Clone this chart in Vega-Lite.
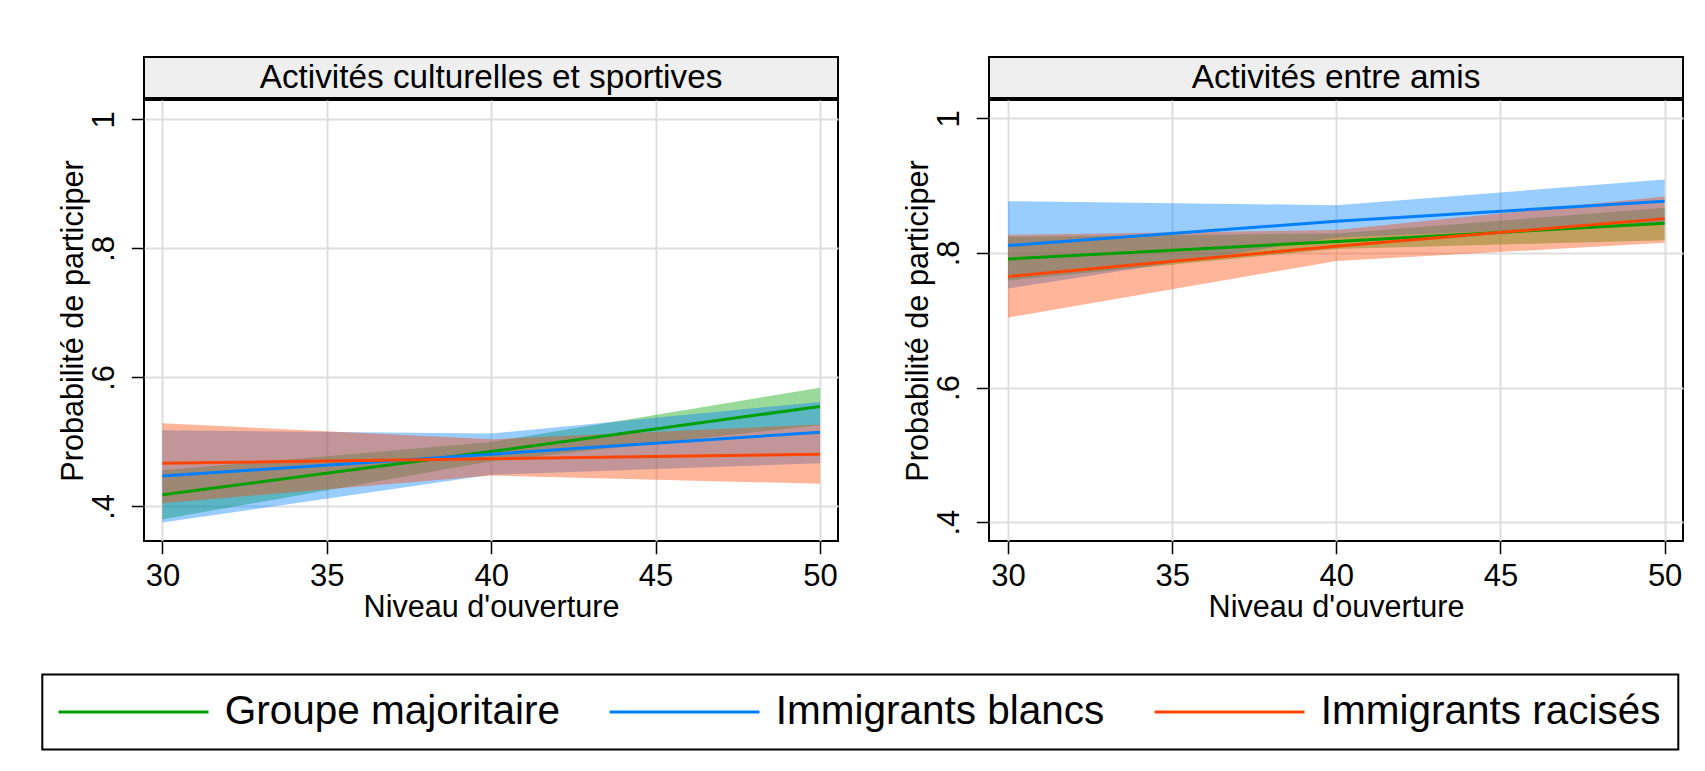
{
  "$schema": "https://vega.github.io/schema/vega-lite/v6.json",
  "background": "white",
  "padding": {"left": 41, "top": 56, "right": 0, "bottom": 0},
  "datasets": {
    "panels": [
      {"panel": "Activités culturelles et sportives"},
      {"panel": "Activités entre amis"}
    ],
    "est": [
      {"panel": "Activités culturelles et sportives", "groupe": "Groupe majoritaire", "ouverture": 30, "prob": 0.418, "lo": 0.380, "hi": 0.456},
      {"panel": "Activités culturelles et sportives", "groupe": "Groupe majoritaire", "ouverture": 40, "prob": 0.485, "lo": 0.470, "hi": 0.500},
      {"panel": "Activités culturelles et sportives", "groupe": "Groupe majoritaire", "ouverture": 50, "prob": 0.555, "lo": 0.526, "hi": 0.584},
      {"panel": "Activités culturelles et sportives", "groupe": "Immigrants blancs", "ouverture": 30, "prob": 0.447, "lo": 0.375, "hi": 0.518},
      {"panel": "Activités culturelles et sportives", "groupe": "Immigrants blancs", "ouverture": 40, "prob": 0.481, "lo": 0.449, "hi": 0.513},
      {"panel": "Activités culturelles et sportives", "groupe": "Immigrants blancs", "ouverture": 50, "prob": 0.515, "lo": 0.467, "hi": 0.562},
      {"panel": "Activités culturelles et sportives", "groupe": "Immigrants racisés", "ouverture": 30, "prob": 0.467, "lo": 0.405, "hi": 0.529},
      {"panel": "Activités culturelles et sportives", "groupe": "Immigrants racisés", "ouverture": 40, "prob": 0.474, "lo": 0.448, "hi": 0.504},
      {"panel": "Activités culturelles et sportives", "groupe": "Immigrants racisés", "ouverture": 50, "prob": 0.481, "lo": 0.435, "hi": 0.527},
      {"panel": "Activités entre amis", "groupe": "Groupe majoritaire", "ouverture": 30, "prob": 0.791, "lo": 0.759, "hi": 0.824},
      {"panel": "Activités entre amis", "groupe": "Groupe majoritaire", "ouverture": 40, "prob": 0.817, "lo": 0.806, "hi": 0.829},
      {"panel": "Activités entre amis", "groupe": "Groupe majoritaire", "ouverture": 50, "prob": 0.844, "lo": 0.819, "hi": 0.867},
      {"panel": "Activités entre amis", "groupe": "Immigrants blancs", "ouverture": 30, "prob": 0.811, "lo": 0.747, "hi": 0.877},
      {"panel": "Activités entre amis", "groupe": "Immigrants blancs", "ouverture": 40, "prob": 0.847, "lo": 0.823, "hi": 0.871},
      {"panel": "Activités entre amis", "groupe": "Immigrants blancs", "ouverture": 50, "prob": 0.877, "lo": 0.843, "hi": 0.909},
      {"panel": "Activités entre amis", "groupe": "Immigrants racisés", "ouverture": 30, "prob": 0.765, "lo": 0.704, "hi": 0.827},
      {"panel": "Activités entre amis", "groupe": "Immigrants racisés", "ouverture": 40, "prob": 0.810, "lo": 0.788, "hi": 0.834},
      {"panel": "Activités entre amis", "groupe": "Immigrants racisés", "ouverture": 50, "prob": 0.851, "lo": 0.815, "hi": 0.884}
    ]
  },
  "config": {
    "font": "Liberation Sans",
    "view": {"stroke": "black", "strokeWidth": 2},
    "legend": {"strokeWidth": 2},
    "axis": {
      "domain": false,
      "grid": true,
      "gridColor": "#dedede",
      "gridWidth": 2,
      "tickColor": "black",
      "tickWidth": 1.5,
      "tickSize": 12.7,
      "labelFont": "Liberation Sans",
      "labelFontSize": 31,
      "labelColor": "black",
      "titleFont": "Liberation Sans",
      "titleFontSize": 30.6,
      "titleFontWeight": "normal",
      "titleColor": "black"
    }
  },
  "resolve": {"scale": {"color": "shared", "fill": "shared"}, "legend": {"color": "shared"}},
  "spacing": 62,
  "hconcat": [
    {
      "spacing": 0,
      "vconcat": [
        {
          "width": 694,
          "height": 41,
          "data": {"name": "panels"},
          "transform": [{"filter": "datum.panel == 'Activités culturelles et sportives'"}],
          "view": {"fill": "#efefef", "stroke": "black", "strokeWidth": 2},
          "mark": {"type": "text", "font": "Liberation Sans", "fontSize": 33.3, "baseline": "middle", "color": "black"},
          "encoding": {"text": {"field": "panel", "type": "nominal"}}
        },
        {
          "width": 694,
          "height": 441,
          "data": {"name": "est"},
          "transform": [{"filter": "datum.panel == 'Activités culturelles et sportives'"}],
          "encoding": {
            "x": {
              "field": "ouverture", "type": "quantitative",
              "scale": {"domain": [29.44, 50.55], "nice": false, "zero": false},
              "axis": {"values": [30, 35, 40, 45, 50], "title": "Niveau d'ouverture", "labelPadding": 8, "labelBaseline": "top", "titleBaseline": "alphabetic", "titleY": 75}
            }
          },
          "layer": [
            {
              "mark": {"type": "area", "opacity": 0.4},
              "encoding": {
                "y": {
                  "field": "lo", "type": "quantitative",
                  "scale": {"domain": [0.3464, 1.030], "nice": false, "zero": false},
                  "axis": {"values": [0.4, 0.6, 0.8, 1], "title": "Probabilité de participer", "labelExpr": "datum.value == 1 ? '1' : replace(format(datum.value, '.1f'), '0.', '.')", "labelAngle": 270, "labelAlign": "center", "labelBaseline": "alphabetic", "labelPadding": 17.5, "titleAngle": 270, "titleBaseline": "alphabetic", "titleX": -62}
                },
                "y2": {"field": "hi"},
                "fill": {"field": "groupe", "type": "nominal", "legend": null,
                  "scale": {"domain": ["Immigrants racisés", "Immigrants blancs", "Groupe majoritaire"], "range": ["#ff4500", "#0080ff", "#00a000"]}}
              }
            },
            {
              "mark": {"type": "line", "strokeWidth": 3},
              "encoding": {
                "y": {"field": "prob", "type": "quantitative"},
                "color": {"field": "groupe", "type": "nominal",
                  "scale": {"domain": ["Groupe majoritaire", "Immigrants blancs", "Immigrants racisés"], "range": ["#00a000", "#0080ff", "#ff4500"]},
                  "legend": {
                    "title": null, "orient": "none", "legendX": -101.7, "legendY": 617.5, "direction": "horizontal",
                    "symbolType": "M-1.4,0H8.6", "symbolSize": 900, "symbolStrokeWidth": 3,
                    "labelFont": "Liberation Sans", "labelFontSize": 40.5, "labelColor": "black", "labelLimit": 0,
                    "labelOffset": 124.9, "columnPadding": 43, "padding": 17,
                    "strokeColor": "black", "fillColor": "white"
                  }}
              }
            }
          ]
        }
      ]
    },
    {
      "spacing": 0,
      "vconcat": [
        {
          "width": 694,
          "height": 41,
          "data": {"name": "panels"},
          "transform": [{"filter": "datum.panel == 'Activités entre amis'"}],
          "view": {"fill": "#efefef", "stroke": "black", "strokeWidth": 2},
          "mark": {"type": "text", "font": "Liberation Sans", "fontSize": 33.3, "baseline": "middle", "color": "black"},
          "encoding": {"text": {"field": "panel", "type": "nominal"}}
        },
        {
          "width": 694,
          "height": 441,
          "data": {"name": "est"},
          "transform": [{"filter": "datum.panel == 'Activités entre amis'"}],
          "encoding": {
            "x": {
              "field": "ouverture", "type": "quantitative",
              "scale": {"domain": [29.42, 50.56], "nice": false, "zero": false},
              "axis": {"values": [30, 35, 40, 45, 50], "title": "Niveau d'ouverture", "labelPadding": 8, "labelBaseline": "top", "titleBaseline": "alphabetic", "titleY": 75}
            }
          },
          "layer": [
            {
              "mark": {"type": "area", "opacity": 0.4},
              "encoding": {
                "y": {
                  "field": "lo", "type": "quantitative",
                  "scale": {"domain": [0.3719, 1.0273], "nice": false, "zero": false},
                  "axis": {"values": [0.4, 0.6, 0.8, 1], "title": "Probabilité de participer", "labelExpr": "datum.value == 1 ? '1' : replace(format(datum.value, '.1f'), '0.', '.')", "labelAngle": 270, "labelAlign": "center", "labelBaseline": "alphabetic", "labelPadding": 17.5, "titleAngle": 270, "titleBaseline": "alphabetic", "titleX": -62}
                },
                "y2": {"field": "hi"},
                "fill": {"field": "groupe", "type": "nominal", "legend": null}
              }
            },
            {
              "mark": {"type": "line", "strokeWidth": 3},
              "encoding": {
                "y": {"field": "prob", "type": "quantitative"},
                "color": {"field": "groupe", "type": "nominal"}
              }
            }
          ]
        }
      ]
    }
  ]
}
